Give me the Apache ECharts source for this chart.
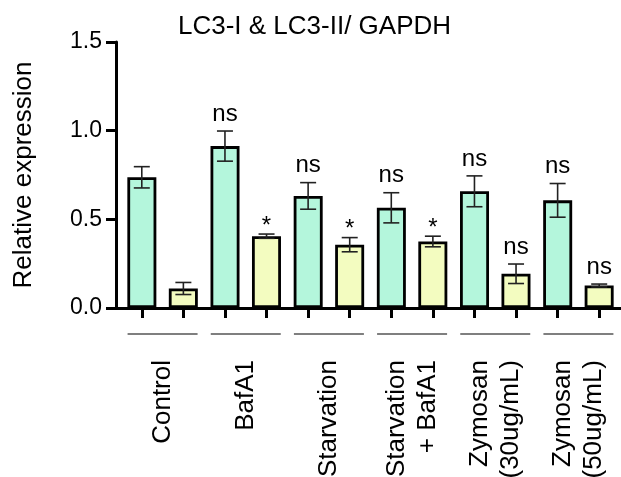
<!DOCTYPE html>
<html>
<head>
<meta charset="utf-8">
<script src="https://cdn.jsdelivr.net/npm/echarts@6/dist/echarts.min.js"></script>
<style>
  html, body { margin: 0; padding: 0; background: #fff; }
  #chart { width: 621px; height: 477px; }
</style>
</head>
<body>
<div id="chart"></div>
<script>
// ---- data ----
const titleText = 'LC3-I & LC3-II/ GAPDH';
const yAxisName = 'Relative expression';
const categories = ['Control', 'BafA1', 'Starvation', 'Starvation\n+ BafA1', 'Zymosan\n(30ug/mL)', 'Zymosan\n(50ug/mL)'];
const lc3iValues = [0.737, 0.913, 0.632, 0.565, 0.658, 0.607];
const lc3iErrors = [0.060, 0.085, 0.075, 0.085, 0.087, 0.095];
const lc3iiValues = [0.110, 0.405, 0.357, 0.375, 0.193, 0.127];
const lc3iiErrors = [0.034, 0.012, 0.040, 0.030, 0.055, 0.008];
const lc3iSig = ['', 'ns', 'ns', 'ns', 'ns', 'ns'];
const lc3iiSig = ['', '*', '*', '*', 'ns', 'ns'];
const yTicks = [0, 0.5, 1.0, 1.5];

// ---- styles ----
const FONT = 'Liberation Sans, Arial, Helvetica, sans-serif';
const GREEN = '#b4f6dc';
const YELLOW = '#f3fcc0';
const AXIS_W = 3;

const tickCats = [];
categories.forEach((c) => { tickCats.push(c + '-I'); tickCats.push(c + '-II'); });

function errorSeries(name, vals, errs, sigs, side) {
  return {
    type: 'custom',
    name: name,
    xAxisIndex: 0,
    yAxisIndex: 0,
    clip: false,
    z: 5,
    data: vals.map((v, i) => [i, v, errs[i]]),
    renderItem: function (params, api) {
      const i = api.value(0), v = api.value(1), e = api.value(2);
      const band = api.size([1, 0])[0];
      const x = api.coord([i, v])[0] + side * band / 4;
      const yt = api.coord([i, v + e])[1];
      const yb = api.coord([i, v - e])[1];
      const cap = 8;
      const ls = { stroke: '#222', lineWidth: 1.6 };
      const sig = sigs[i];
      const children = [
        { type: 'line', shape: { x1: x, y1: yt, x2: x, y2: yb }, style: ls },
        { type: 'line', shape: { x1: x - cap, y1: yt, x2: x + cap, y2: yt }, style: ls },
        { type: 'line', shape: { x1: x - cap, y1: yb, x2: x + cap, y2: yb }, style: ls }
      ];
      if (sig) {
        const gap = sig === '*' ? -4 : 5;
        children.push({
          type: 'text',
          style: {
            text: sig, x: x, y: yt - gap,
            align: 'center', verticalAlign: 'bottom',
            font: '24px ' + FONT, fill: '#000'
          }
        });
      }
      return { type: 'group', children: children };
    }
  };
}

const chart = echarts.init(document.getElementById('chart'), null, { renderer: 'canvas' });
chart.setOption({
  animation: false,
  backgroundColor: '#fff',
  title: {
    text: titleText,
    left: 173, top: 9,
    textStyle: { fontFamily: FONT, fontSize: 26, fontWeight: 'normal', color: '#000' }
  },
  grid: [
    { left: 121, right: 1, top: 42, bottom: 169, containLabel: false, outerBoundsMode: 'none' },
    { left: 116, right: 0, top: 42, bottom: 169, containLabel: false, outerBoundsMode: 'none' }
  ],
  xAxis: [
    {
      type: 'category', gridIndex: 0, data: categories, position: 'bottom',
      axisLine: { show: false },
      axisTick: { show: false },
      axisLabel: {
        interval: 0, rotate: 90, margin: 52,
        fontFamily: FONT, fontSize: 26, color: '#000', lineHeight: 31
      }
    },
    {
      type: 'category', gridIndex: 0, data: tickCats, position: 'bottom',
      axisLine: { show: false },
      axisTick: { show: true, alignWithLabel: true, interval: 0, length: 10, lineStyle: { color: '#000', width: AXIS_W } },
      axisLabel: { show: false }
    },
    {
      type: 'value', gridIndex: 1, min: 0, max: 1, position: 'bottom',
      axisLine: { show: true, lineStyle: { color: '#000', width: AXIS_W } },
      axisTick: { show: false }, axisLabel: { show: false }, splitLine: { show: false }
    }
  ],
  yAxis: [
    {
      type: 'value', gridIndex: 0, min: yTicks[0], max: yTicks[yTicks.length - 1], interval: 0.5,
      offset: 5,
      name: yAxisName, nameLocation: 'middle', nameGap: 79,
      nameTextStyle: { fontFamily: FONT, fontSize: 26, color: '#000' },
      axisLine: { show: true, lineStyle: { color: '#000', width: AXIS_W } },
      axisTick: { show: true, length: 10, lineStyle: { color: '#000', width: AXIS_W } },
      axisLabel: {
        margin: 14, fontFamily: FONT, fontSize: 23, color: '#000',
        formatter: v => v.toFixed(1)
      },
      splitLine: { show: false }
    },
    { type: 'value', gridIndex: 1, show: false, min: 0, max: 1 }
  ],
  series: [
    {
      type: 'bar', name: 'LC3-I', xAxisIndex: 0, yAxisIndex: 0,
      data: lc3iValues, barWidth: 29, barGap: '43%',
      itemStyle: { color: GREEN, borderColor: '#000', borderWidth: 2.8 }
    },
    {
      type: 'bar', name: 'LC3-II', xAxisIndex: 0, yAxisIndex: 0,
      data: lc3iiValues, barWidth: 29, barGap: '43%',
      itemStyle: { color: YELLOW, borderColor: '#000', borderWidth: 2.8 }
    },
    errorSeries('LC3-I err', lc3iValues, lc3iErrors, lc3iSig, -1),
    errorSeries('LC3-II err', lc3iiValues, lc3iiErrors, lc3iiSig, 1),
    {
      type: 'custom', name: 'group lines', xAxisIndex: 0, yAxisIndex: 0, clip: false, silent: true,
      data: categories.map((c, i) => [i, 0]),
      renderItem: function (params, api) {
        const p = api.coord([api.value(0), 0]);
        return {
          type: 'line',
          shape: { x1: p[0] - 35, y1: p[1] + 26, x2: p[0] + 35, y2: p[1] + 26 },
          style: { stroke: '#555', lineWidth: 1.5 }
        };
      }
    }
  ]
});
</script>
</body>
</html>
